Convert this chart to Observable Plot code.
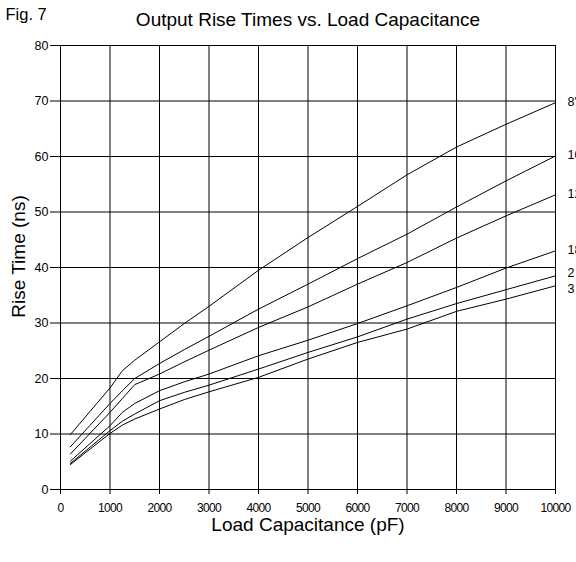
<!DOCTYPE html>
<html>
<head>
<meta charset="utf-8">
<script src="https://cdn.jsdelivr.net/npm/d3@7"></script>
<script src="https://cdn.jsdelivr.net/npm/@observablehq/plot@0.6"></script>
<style>
  html, body { margin: 0; padding: 0; background: white; }
  #chart svg { display: block; }
  #chart text { font-family: "Liberation Sans", Arial, sans-serif; }
  g[aria-label="x-axis tick label"] text { letter-spacing: -0.7px; }
  g[aria-label="title"] text { letter-spacing: -1.3px; }
  g[aria-label="xlabel"] text { letter-spacing: -1.3px; }
</style>
</head>
<body>
<div id="chart"></div>
<script>
// Load capacitance (pF) sample points
const capacitance = [200, 1000, 1250, 1500, 2000, 2500, 3000, 4000, 5000, 6000, 7000, 8000, 9000, 10000];
// Rise time (ns) per curve
const rise8  = [9.9, 18.3, 21.4, 23.3, 26.6, 29.9, 33.0, 39.5, 45.4, 51.0, 56.7, 61.7, 65.8, 69.7];
const rise10 = [7.7, 15.5, 17.8, 20.0, 22.7, 25.2, 27.6, 32.5, 37.0, 41.6, 46.0, 50.9, 55.6, 60.1];
const rise12 = [6.4, 13.9, 16.4, 18.9, 20.8, 23.0, 25.1, 29.2, 32.9, 37.0, 40.9, 45.3, 49.3, 53.1];
const rise18 = [5.1, 11.5, 13.9, 15.5, 17.8, 19.4, 20.8, 24.1, 26.9, 29.9, 33.1, 36.4, 39.9, 43.0];
const rise2  = [4.7, 10.6, 12.3, 13.6, 16.0, 17.5, 18.8, 21.7, 24.7, 27.5, 30.7, 33.5, 36.0, 38.5];
const rise3  = [4.5, 10.1, 11.6, 12.7, 14.5, 16.2, 17.6, 20.2, 23.5, 26.5, 28.9, 32.1, 34.3, 36.7];
const seriesNames = ["8'", "10", "12", "18", "2", "3"];
const seriesValues = [rise8, rise10, rise12, rise18, rise2, rise3];
const xTicks = [0, 1000, 2000, 3000, 4000, 5000, 6000, 7000, 8000, 9000, 10000];
const yTicks = [0, 10, 20, 30, 40, 50, 60, 70, 80];
const titleText = "Output Rise Times vs. Load Capacitance";
const figText = "Fig. 7";
const xLabel = "Load Capacitance (pF)";
const yLabel = "Rise Time (ns)";

const rows = [];
seriesNames.forEach((name, i) => {
  capacitance.forEach((c, j) => rows.push({series: name, x: c, y: seriesValues[i][j]}));
});
const endLabels = seriesNames.map((name, i) => ({series: name, x: capacitance[capacitance.length - 1], y: seriesValues[i][seriesValues[i].length - 1]}));
const labelText = {x: "x", y: "y", text: "series", textAnchor: "start", dx: 12, fontSize: 12.5, fill: "black"};

const chart = Plot.plot({
  width: 576,
  height: 562,
  marginTop: 45,
  marginBottom: 73,
  marginLeft: 60,
  marginRight: 21,
  style: {background: "white", color: "black", fontFamily: "Liberation Sans, Arial, sans-serif", overflow: "visible"},
  x: {domain: [0, 10000]},
  y: {domain: [0, 80]},
  marks: [
    Plot.gridX(xTicks, {stroke: "black", strokeOpacity: 1, strokeWidth: 1}),
    Plot.gridY(yTicks, {stroke: "black", strokeOpacity: 1, strokeWidth: 1}),
    Plot.axisX(xTicks, {tickSize: 5, tickPadding: 9, fontSize: 12, label: null, tickFormat: d => String(d)}),
    Plot.axisY(yTicks, {tickSize: 10, tickPadding: 2, fontSize: 12.5, label: null, tickFormat: d => String(d)}),
    Plot.ruleX([0], {stroke: "black"}),
    Plot.ruleY([0], {stroke: "black"}),
    Plot.line(rows, {x: "x", y: "y", z: "series", stroke: "black", strokeWidth: 1, curve: "linear"}),
    Plot.text(endLabels, {...labelText, filter: d => d.series !== "2" && d.series !== "3", dy: -1}),
    Plot.text(endLabels, {...labelText, filter: d => d.series === "2", dy: -3}),
    Plot.text(endLabels, {...labelText, filter: d => d.series === "3", dy: 3}),
    Plot.text([titleText], {frameAnchor: "top", lineAnchor: "middle", dy: -26, fontSize: 19, fill: "black", ariaLabel: "title"}),
    Plot.text([figText], {frameAnchor: "top-left", lineAnchor: "middle", textAnchor: "start", dx: -55, dy: -31, fontSize: 16.5, fill: "black"}),
    Plot.text([xLabel], {frameAnchor: "bottom", lineAnchor: "middle", dy: 35, fontSize: 19, fill: "black", ariaLabel: "xlabel"}),
    Plot.text([yLabel], {frameAnchor: "left", lineAnchor: "middle", textAnchor: "middle", dx: -42, dy: -11, rotate: -90, fontSize: 19, fill: "black"})
  ]
});
document.getElementById("chart").appendChild(chart);
</script>
</body>
</html>
